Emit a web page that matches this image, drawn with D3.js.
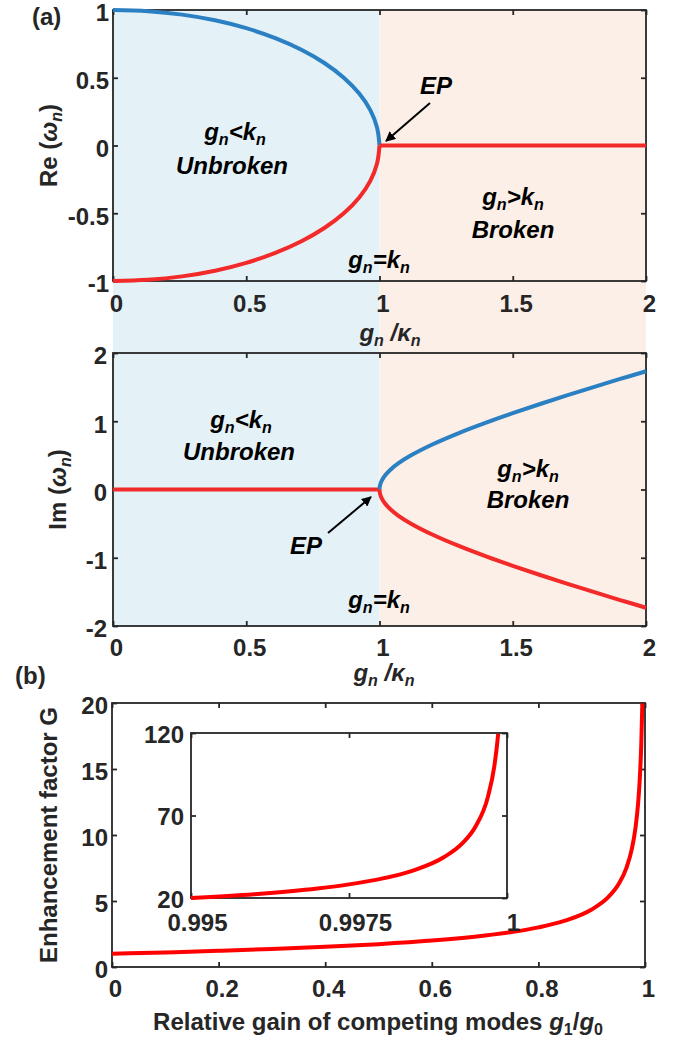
<!DOCTYPE html>
<html>
<head>
<meta charset="utf-8">
<script src="https://cdn.jsdelivr.net/npm/d3@7"></script>
<style>
body { margin: 0; background: #fff; }
text { font-family: "Liberation Sans", Arial, sans-serif; font-weight: bold; }
</style>
</head>
<body>
<svg id="fig" width="679" height="1040"></svg>
<script>
// ---------- data ----------
const ratioTicks = [0, 0.5, 1, 1.5, 2];
const reTicks = [-1, -0.5, 0, 0.5, 1];
const imTicks = [-2, -1, 0, 1, 2];

// (a) top: Re(omega_n), unbroken branch for g/k in [0, 1]
const unbrokenX = [0, 0.131, 0.259, 0.383, 0.5, 0.609, 0.707, 0.793, 0.866, 0.924, 0.966, 0.991, 1];
const reUpper   = [1, 0.991, 0.966, 0.924, 0.866, 0.793, 0.707, 0.609, 0.5, 0.383, 0.259, 0.131, 0];
const reLower   = [-1, -0.991, -0.966, -0.924, -0.866, -0.793, -0.707, -0.609, -0.5, -0.383, -0.259, -0.131, 0];
const reBrokenX = [1, 2];
const reBroken  = [0, 0];

// (a) bottom: Im(omega_n)
const imUnbrokenX = [0, 1];
const imUnbroken  = [0, 0];
const brokenX  = [1, 1.002, 1.008, 1.02, 1.04, 1.07, 1.12, 1.2, 1.3, 1.4, 1.5, 1.6, 1.7, 1.8, 1.9, 2];
const imUpper  = [0, 0.063, 0.127, 0.201, 0.286, 0.381, 0.504, 0.663, 0.831, 0.98, 1.118, 1.249, 1.375, 1.497, 1.616, 1.732];
const imLower  = [0, -0.063, -0.127, -0.201, -0.286, -0.381, -0.504, -0.663, -0.831, -0.98, -1.118, -1.249, -1.375, -1.497, -1.616, -1.732];

// (b) enhancement factor G vs g1/g0
const gainTicks = [0, 0.2, 0.4, 0.6, 0.8, 1];
const gTicks = [0, 5, 10, 15, 20];
const gainX = [0, 0.1, 0.2, 0.3, 0.4, 0.5, 0.6, 0.7, 0.75, 0.8, 0.85, 0.9, 0.93, 0.95, 0.965, 0.975, 0.982, 0.987, 0.99, 0.993, 0.995];
const gainG = [1, 1.106, 1.225, 1.363, 1.528, 1.732, 2, 2.38, 2.646, 3, 3.512, 4.359, 5.25, 6.245, 7.49, 8.89, 10.49, 12.36, 14.1, 16.87, 19.97];

// (b) inset, zoom near g1/g0 = 1
const insetXTicks = [0.995, 0.9975, 1];
const insetYTicks = [20, 70, 120];
const insetX = [0.995, 0.996, 0.997, 0.9975, 0.998, 0.9985, 0.999, 0.9993, 0.9995, 0.9997, 0.9998, 0.99985, 0.99986];
const insetG = [19.97, 22.34, 25.8, 28.27, 31.6, 36.5, 44.7, 53.4, 63.2, 81.6, 100, 115.5, 119.5];

// ---------- setup ----------
const svg = d3.select("#fig");
const FS = 24;
const axisColor = "#262626";
const blue = "#2a80c2", red = "#f22a2a";
const plain = d => String(d);

const xa = d3.scaleLinear().domain([0, 2]).range([113, 646]);
const yRe = d3.scaleLinear().domain([-1, 1]).range([281, 10]);
const yIm = d3.scaleLinear().domain([-2, 2]).range([626, 353]);
const xb = d3.scaleLinear().domain([0, 1]).range([112, 645]);
const yb = d3.scaleLinear().domain([0, 20]).range([967, 703]);
const xi = d3.scaleLinear().domain([0.995, 1]).range([191, 507]);
const yi = d3.scaleLinear().domain([20, 120]).range([898, 733]);

function zip(xs, ys) { return xs.map((v, i) => [v, ys[i]]); }

function drawAxes(x, y, xt, yt, xPad, yPad) {
    const g = svg.append("g");
    const [x0, x1] = x.range(), [y0, y1] = y.range();
    const bottom = g.append("g").attr("transform", `translate(0,${y0})`)
        .call(d3.axisBottom(x).tickValues(xt).tickSize(-5).tickSizeOuter(0).tickPadding(xPad).tickFormat(plain));
    bottom.selectAll("text").attr("dx", 3);
    g.append("g").attr("transform", `translate(0,${y1})`)
        .call(d3.axisTop(x).tickValues(xt).tickSize(-5).tickSizeOuter(0).tickFormat(""));
    const left = g.append("g").attr("transform", `translate(${x0},0)`)
        .call(d3.axisLeft(y).tickValues(yt).tickSize(-5).tickSizeOuter(0).tickPadding(yPad).tickFormat(plain));
    left.selectAll("text").attr("dy", "0.45em");
    g.append("g").attr("transform", `translate(${x1},0)`)
        .call(d3.axisRight(y).tickValues(yt).tickSize(-5).tickSizeOuter(0).tickFormat(""));
    g.selectAll(".domain").remove();
    g.selectAll(".tick line").attr("stroke", axisColor).attr("stroke-width", 1.8);
    g.selectAll("text").attr("font-size", FS).attr("font-family", null).attr("fill", axisColor);
    g.append("rect").attr("x", x0).attr("y", y1).attr("width", x1 - x0).attr("height", y0 - y1)
        .attr("fill", "none").attr("stroke", axisColor).attr("stroke-width", 1.8);
    return {g, bottom, left};
}

function curve(x, y, pts, color, type) {
    svg.append("path").datum(pts)
        .attr("d", d3.line().x(d => x(d[0])).y(d => y(d[1])).curve(type || d3.curveCatmullRom.alpha(0.5)))
        .attr("fill", "none").attr("stroke", color).attr("stroke-width", 4)
        .attr("stroke-linecap", "butt");
}

// text with subscripts; parts: [string, italic, sub]
function rich(x, y, parts, opts) {
    opts = opts || {};
    const t = svg.append("text").attr("x", x).attr("y", y)
        .attr("text-anchor", opts.anchor || "middle")
        .attr("font-size", FS).attr("fill", opts.fill || "#000");
    if (opts.rotate) t.attr("transform", `rotate(-90,${x},${y})`);
    let shifted = false;
    parts.forEach(p => {
        const s = t.append("tspan").text(p[0]);
        if (p[1]) s.attr("font-style", "italic");
        if (p[2] && !shifted) { s.attr("dy", 5).attr("font-size", 16); shifted = true; }
        else if (p[2]) s.attr("font-size", 16);
        else if (shifted) { s.attr("dy", -5); shifted = false; }
    });
    return t;
}

// ---------- (a) shaded regions ----------
svg.append("rect").attr("x", xa(0)).attr("y", 10).attr("width", xa(1) - xa(0)).attr("height", 626 - 10)
    .attr("fill", "#e4f1f7");
svg.append("rect").attr("x", xa(1)).attr("y", 10).attr("width", xa(2) - xa(1)).attr("height", 626 - 10)
    .attr("fill", "#fcefe7");

// ---------- (a) top: Re ----------
drawAxes(xa, yRe, ratioTicks, reTicks, 14, 4);
curve(xa, yRe, zip(unbrokenX, reUpper), blue);
curve(xa, yRe, zip(unbrokenX, reLower), red);
curve(xa, yRe, zip(reBrokenX, reBroken), red, d3.curveLinear);

// ---------- (a) bottom: Im ----------
drawAxes(xa, yIm, ratioTicks, imTicks, 13, 6);
curve(xa, yIm, zip(imUnbrokenX, imUnbroken), red, d3.curveLinear);
curve(xa, yIm, zip(brokenX, imUpper), blue);
curve(xa, yIm, zip(brokenX, imLower), red);

// ---------- (a) labels ----------
const it = true;
rich(32, 25, [["(a)"]], {anchor: "start", fill: axisColor});
rich(57, 145.5, [["Re ("], ["ω", it], ["n", it, true], [")"]], {rotate: true, fill: axisColor});
rich(66, 489.5, [["Im ("], ["ω", it], ["n", it, true], [")"]], {rotate: true, fill: axisColor});
rich(390, 341, [["g", it], ["n", it, true], [" /", it], ["κ", it], ["n", it, true]], {fill: axisColor});
rich(384, 681, [["g", it], ["n", it, true], [" /", it], ["κ", it], ["n", it, true]], {fill: axisColor});

rich(235, 140, [["g", it], ["n", it, true], ["<k", it], ["n", it, true]]);
rich(232, 174, [["Unbroken", it]]);
rich(513, 205, [["g", it], ["n", it, true], [">k", it], ["n", it, true]]);
rich(513, 238, [["Broken", it]]);
rich(379, 268, [["g", it], ["n", it, true], ["=k", it], ["n", it, true]]);
rich(436, 94, [["EP", it]]);

rich(241, 428, [["g", it], ["n", it, true], ["<k", it], ["n", it, true]]);
rich(239, 460, [["Unbroken", it]]);
rich(528, 477, [["g", it], ["n", it, true], [">k", it], ["n", it, true]]);
rich(528, 508, [["Broken", it]]);
rich(379, 608, [["g", it], ["n", it, true], ["=k", it], ["n", it, true]]);
rich(306, 554, [["EP", it]]);

svg.append("defs").append("marker").attr("id", "ah")
    .attr("viewBox", "0 0 10 10").attr("refX", 9).attr("refY", 5)
    .attr("markerWidth", 5).attr("markerHeight", 5).attr("orient", "auto")
    .append("path").attr("d", "M0,0L10,5L0,10z").attr("fill", "#000");
function arrow(x1, y1, x2, y2) {
    svg.append("line").attr("x1", x1).attr("y1", y1).attr("x2", x2).attr("y2", y2)
        .attr("stroke", "#000").attr("stroke-width", 2).attr("marker-end", "url(#ah)");
}
arrow(430, 103, 386, 141);
arrow(328, 533, 371, 497);

// ---------- (b) ----------
drawAxes(xb, yb, gainTicks, gTicks, 13, 4);
curve(xb, yb, zip(gainX, gainG), "#ff0000", d3.curveMonotoneX);

svg.append("rect").attr("x", 191).attr("y", 733).attr("width", 316).attr("height", 165).attr("fill", "#fff");
const ins = drawAxes(xi, yi, insetXTicks, insetYTicks, 16, 7);
ins.bottom.selectAll("text").attr("dx", 6);
ins.left.selectAll("text").attr("dy", "0.38em");
curve(xi, yi, zip(insetX, insetG), "#ff0000", d3.curveMonotoneX);

rich(15, 684, [["(b)"]], {anchor: "start", fill: axisColor});
rich(57, 835, [["Enhancement factor G"]], {rotate: true, fill: axisColor});
rich(378, 1030, [["Relative gain of competing modes "], ["g", it], ["1", false, true], ["/"], ["g", it], ["0", false, true]], {fill: axisColor});
</script>
</body>
</html>
